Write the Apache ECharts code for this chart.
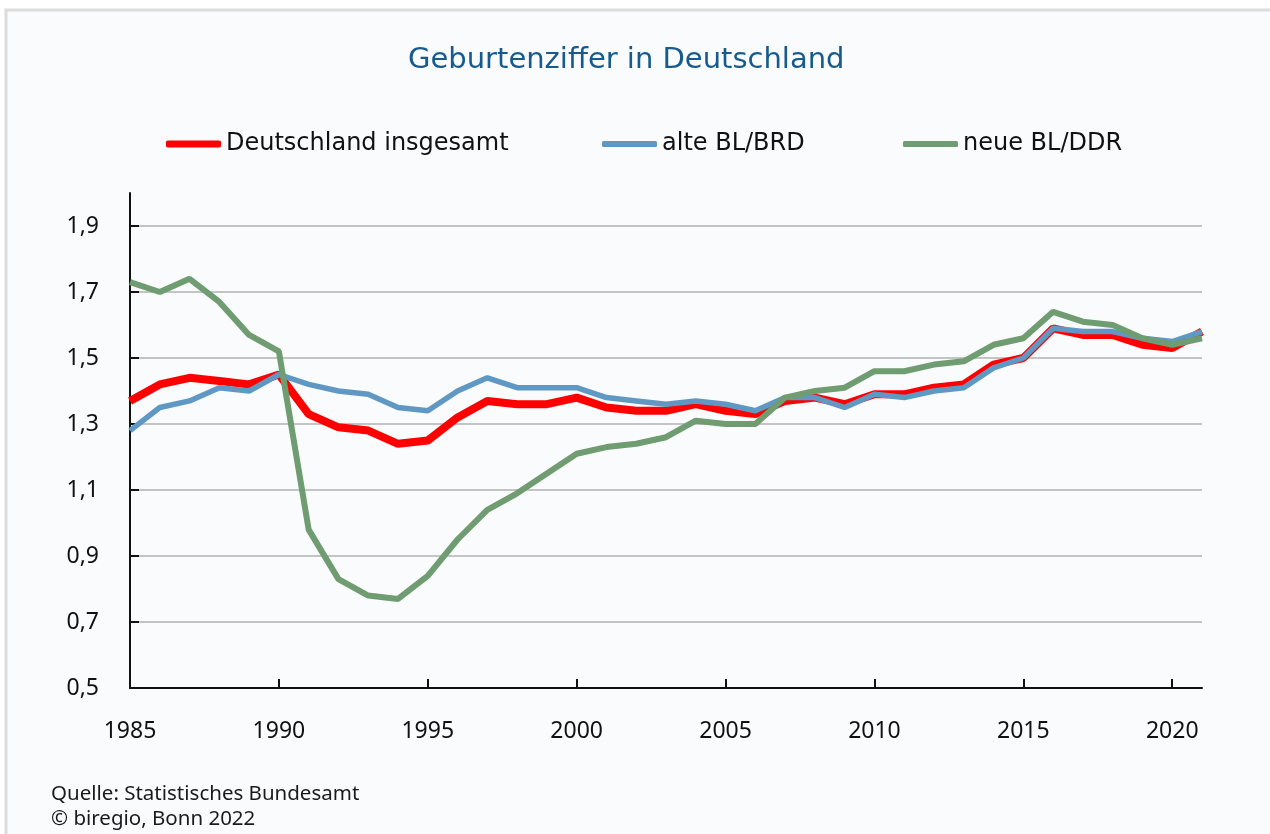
<!DOCTYPE html>
<html>
<head>
<meta charset="utf-8">
<script src="https://cdn.jsdelivr.net/npm/echarts@6/dist/echarts.min.js"></script>
<style>
html,body{margin:0;padding:0;background:#ffffff;}
#chart{width:1270px;height:834px;}
</style>
</head>
<body>
<div id="chart"></div>
<script>
const years = [1985,1986,1987,1988,1989,1990,1991,1992,1993,1994,1995,1996,1997,1998,1999,2000,2001,2002,2003,2004,2005,2006,2007,2008,2009,2010,2011,2012,2013,2014,2015,2016,2017,2018,2019,2020,2021];
const deutschland = [1.37,1.42,1.44,1.43,1.42,1.45,1.33,1.29,1.28,1.24,1.25,1.32,1.37,1.36,1.36,1.38,1.35,1.34,1.34,1.36,1.34,1.33,1.37,1.38,1.36,1.39,1.39,1.41,1.42,1.48,1.50,1.59,1.57,1.57,1.54,1.53,1.58];
const alteBL = [1.28,1.35,1.37,1.41,1.40,1.45,1.42,1.40,1.39,1.35,1.34,1.40,1.44,1.41,1.41,1.41,1.38,1.37,1.36,1.37,1.36,1.34,1.38,1.38,1.35,1.39,1.38,1.40,1.41,1.47,1.50,1.59,1.58,1.58,1.56,1.55,1.58];
const neueBL = [1.73,1.70,1.74,1.67,1.57,1.52,0.98,0.83,0.78,0.77,0.84,0.95,1.04,1.09,1.15,1.21,1.23,1.24,1.26,1.31,1.30,1.30,1.38,1.40,1.41,1.46,1.46,1.48,1.49,1.54,1.56,1.64,1.61,1.60,1.56,1.54,1.56];
const yTicks = [0.5,0.7,0.9,1.1,1.3,1.5,1.7,1.9];
const seriesNames = ['Deutschland insgesamt','alte BL/BRD','neue BL/DDR'];
const titleText = 'Geburtenziffer in Deutschland';
const sourceLines = ['Quelle: Statistisches Bundesamt','© biregio, Bonn 2022'];

const pair = (vals) => years.map((y,i)=>[y, vals[i]]);
const legendText = {fontFamily:'DejaVu Sans', fontSize:24, color:'#111'};

const chart = echarts.init(document.getElementById('chart'), null, {renderer:'canvas'});
chart.setOption({
  animation:false,
  backgroundColor:'#ffffff',
  graphic:[
    {type:'rect', z:-10, silent:true, shape:{x:6,y:10,width:1300,height:900}, style:{fill:'#fafbfd', stroke:'#dcdcdc', lineWidth:3}},
    {type:'text', left:51, top:782, style:{text:sourceLines.join('\n'), font:'20.5px "Noto Sans"', fill:'#1a1a1a', lineHeight:25}}
  ],
  title:{text:titleText, left:403, top:41, textStyle:{fontFamily:'DejaVu Sans', fontSize:29, fontWeight:'normal', color:'#175b8e'}},
  legend:[
    {data:[seriesNames[0]], left:161, top:127, itemWidth:55, itemHeight:7, itemGap:4, icon:'roundRect', textStyle:legendText},
    {data:[seriesNames[1]], left:597, top:127, itemWidth:55, itemHeight:6, itemGap:4, icon:'roundRect', textStyle:legendText},
    {data:[seriesNames[2]], left:898, top:127, itemWidth:55, itemHeight:6, itemGap:4, icon:'roundRect', textStyle:legendText}
  ],
  grid:{left:130, right:68, top:193, bottom:146},
  xAxis:{type:'value', min:1985, max:2021, interval:5,
    axisLine:{show:true, lineStyle:{color:'#111', width:2}},
    axisTick:{show:true, inside:true, length:9, lineStyle:{color:'#111', width:2}},
    axisLabel:{margin:32, fontFamily:'Noto Sans', fontSize:23, color:'#111', showMaxLabel:false, formatter:(v)=>String(v)},
    splitLine:{show:false}},
  yAxis:{type:'value', min:0.5, max:2.0,
    axisLine:{show:true, lineStyle:{color:'#111', width:2}},
    axisTick:{show:true, inside:true, length:9, lineStyle:{color:'#111', width:2}, customValues:yTicks},
    axisLabel:{margin:31, fontFamily:'Noto Sans', fontSize:23, color:'#111', customValues:yTicks, formatter:(v)=>v.toFixed(1).replace('.',',')},
    splitLine:{show:true, lineStyle:{color:'#c4c4c4', width:2}}},
  series:[
    {name:seriesNames[0], type:'line', data:pair(deutschland), symbol:'none', z:2, color:'#ff0000', lineStyle:{width:8, color:'#ff0000'}},
    {name:seriesNames[1], type:'line', data:pair(alteBL), symbol:'none', z:3, color:'#6098c4', lineStyle:{width:5.5, color:'#6098c4'}},
    {name:seriesNames[2], type:'line', data:pair(neueBL), symbol:'none', z:4, color:'#6f9c70', lineStyle:{width:6, color:'#6f9c70'}}
  ]
});
</script>
</body>
</html>
